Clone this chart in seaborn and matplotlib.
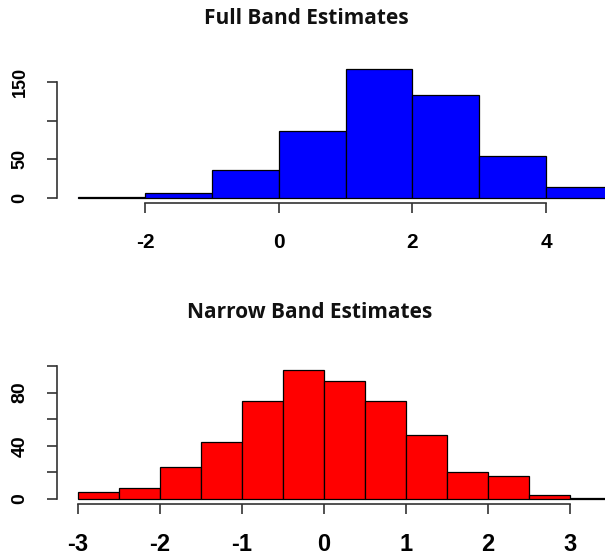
import numpy as np
import pandas as pd
import matplotlib
matplotlib.use("Agg")
import matplotlib.pyplot as plt
import seaborn as sns

# ---- data ----
full_edges = [-3, -2, -1, 0, 1, 2, 3, 4, 5]
full_counts = [1, 6, 36, 87, 167, 133, 54, 14]
full_xticks = [-2, 0, 2, 4]
full_yticks = [0, 50, 100, 150]
full_ylabels = ["0", "50", "", "150"]

narrow_edges = [-3, -2.5, -2, -1.5, -1, -0.5, 0, 0.5, 1, 1.5, 2, 2.5, 3, 3.5]
narrow_counts = [5, 8, 24, 43, 74, 97, 89, 74, 48, 20, 17, 3, 1]
narrow_xticks = [-3, -2, -1, 0, 1, 2, 3]
narrow_yticks = [0, 20, 40, 60, 80, 100]
narrow_ylabels = ["0", "", "40", "", "80", ""]

titles = ["Full Band Estimates", "Narrow Band Estimates"]

W, H = 605, 556
fig = plt.figure(figsize=(W / 100, H / 100), dpi=100)


def draw(ax, edges, counts, color, xlim, xticks, yticks, ylabels, xfs, yfs, xpad):
    e = np.asarray(edges, dtype=float)
    centers = (e[:-1] + e[1:]) / 2
    df = pd.DataFrame({"x": centers, "w": counts})
    sns.histplot(data=df, x="x", weights="w", bins=list(edges), color=color,
                 alpha=1, edgecolor="black", linewidth=0.9, ax=ax)
    ymax = max(counts)
    ax.set_xlim(*xlim)
    ax.set_ylim(-0.04 * ymax, ymax * 1.04)
    ax.set_xlabel("")
    ax.set_ylabel("")
    for s in ["top", "right"]:
        ax.spines[s].set_visible(False)
    ax.spines["left"].set_bounds(yticks[0], yticks[-1])
    ax.spines["bottom"].set_bounds(xticks[0], xticks[-1])
    for s in ["left", "bottom"]:
        ax.spines[s].set_color("#333333")
        ax.spines[s].set_linewidth(1.2)
    ax.set_xticks(xticks)
    ax.set_xticklabels([str(t) for t in xticks], fontsize=xfs,
                       fontweight="bold", family="Liberation Sans")
    ax.set_yticks(yticks)
    ax.set_yticklabels(ylabels, fontsize=yfs, rotation=90, va="center",
                       family="Liberation Sans", fontweight="bold")
    ax.tick_params(axis="both", direction="out", length=7.5, width=1.2,
                   color="#333333")
    ax.tick_params(axis="x", pad=xpad)
    ax.tick_params(axis="y", pad=13)
    ax.patch.set_alpha(0)


ax1 = fig.add_axes([57 / W, 1 - 202.8 / H, 548 / W, 138.6 / H])
draw(ax1, full_edges, full_counts, "#0000FF", (-3.317, 4.883),
     full_xticks, full_yticks, full_ylabels, 15, 13, 14)

ax2 = fig.add_axes([57 / W, 1 - 504.2 / H, 548 / W, 139.4 / H])
draw(ax2, narrow_edges, narrow_counts, "#FF0000", (-3.256, 3.427),
     narrow_xticks, narrow_yticks, narrow_ylabels, 17, 14, 13)

fig.text(306 / W, 1 - 18 / H, titles[0], ha="center", va="center",
         fontsize=15, fontweight="bold", family="Open Sans", color="#111111")
fig.text(310 / W, 1 - 313 / H, titles[1], ha="center", va="center",
         fontsize=15, fontweight="bold", family="Open Sans", color="#111111")

fig.savefig("out.png", dpi=100)
